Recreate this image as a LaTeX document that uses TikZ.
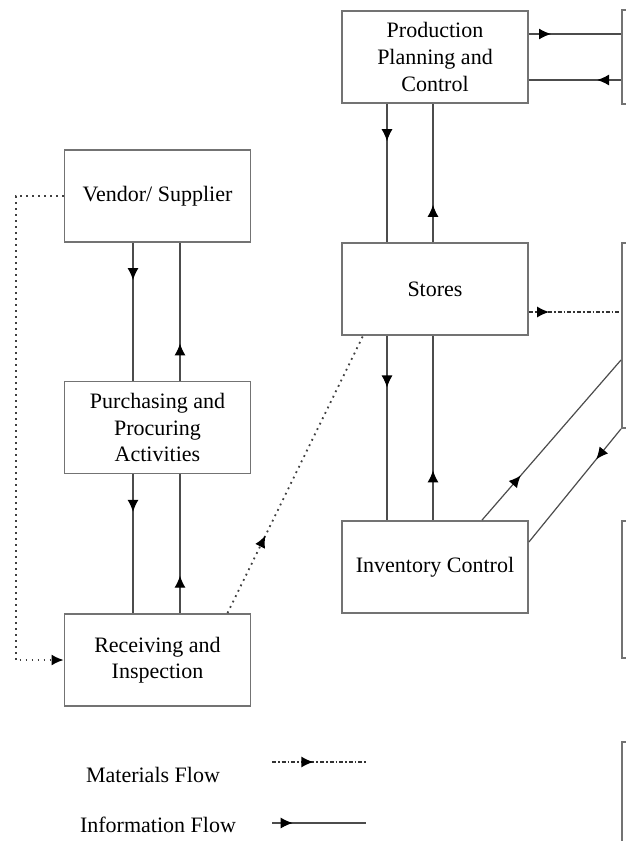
\documentclass[tikz,border=0pt]{standalone}
\usepackage{fontspec}
\setmainfont{Liberation Serif}
\usetikzlibrary{arrows.meta,decorations.markings}

\tikzset{
  box/.style={draw=black!55, line width=0.9pt, rectangle, minimum width=93pt, minimum height=46pt,
    align=center, inner sep=2pt, font=\fontsize{11}{13.3}\selectfont},
  sidebox/.style={draw=black!55, line width=0.9pt, rectangle, anchor=west, minimum width=60pt},
  midarrow/.style={postaction={decorate,decoration={markings,
    mark=at position #1 with {\arrow[black]{Latex[length=6pt,width=5.5pt]}}}}},
  infoflow/.style={draw=black!70, line width=0.6pt, midarrow=#1},
  matflow/.style={draw=black!80, line width=0.7pt, dash pattern=on 2pt off 1pt on 0.8pt off 1pt, midarrow=#1},
  matdotted/.style={draw=black!75, line width=0.9pt, dash pattern=on 0.9pt off 2.1pt},
  legendtext/.style={font=\fontsize{11}{13.3}\selectfont}
}

\begin{document}
\begin{tikzpicture}[x=0.5pt, y=-0.5pt]
    \useasboundingbox (0,0) rectangle (626,841);
    \clip (0,0) rectangle (626,841);

    % left column
    \node (vendor) [box] at (157.5,196) {Vendor/ Supplier};
    \node (purch) [box] at (157.5,427.5) {Purchasing and\\Procuring\\Activities};
    \node (recv) [box] at (157.5,660) {Receiving and\\Inspection};

    % middle column
    \node (ppc) [box] at (435,57) {Production\\Planning and\\Control};
    \node (stores) [box] at (435,289) {Stores};
    \node (inv) [box] at (435,567) {Inventory Control};

    % boxes cut off at the right edge
    \node (rtop) [sidebox, minimum height=47pt] at (621,57) {};
    \node (rmid) [sidebox, minimum height=92.5pt] at (621,335.5) {};
    \node (rlow) [sidebox, minimum height=68.5pt] at (621,589.5) {};
    \node (rbot) [sidebox, minimum height=79pt] at (621,821) {};

    % information flow
    \draw[infoflow=0.27] ([xshift=-12.25pt]vendor.south) -- ([xshift=-12.25pt]purch.north);
    \draw[infoflow=0.27] ([xshift=11.25pt]purch.north) -- ([xshift=11.25pt]vendor.south);
    \draw[infoflow=0.27] ([xshift=-12.25pt]purch.south) -- ([xshift=-12.25pt]recv.north);
    \draw[infoflow=0.27] ([xshift=11.25pt]recv.north) -- ([xshift=11.25pt]purch.south);
    \draw[infoflow=0.27] ([xshift=-24pt]ppc.south) -- ([xshift=-24pt]stores.north);
    \draw[infoflow=0.27] ([xshift=-1pt]stores.north) -- ([xshift=-1pt]ppc.south);
    \draw[infoflow=0.28] ([xshift=-24pt]stores.south) -- ([xshift=-24pt]inv.north);
    \draw[infoflow=0.27] ([xshift=-1pt]inv.north) -- ([xshift=-1pt]stores.south);
    \draw[infoflow=0.24] ([yshift=11.5pt]ppc.east) -- ([yshift=11.5pt]rtop.west);
    \draw[infoflow=0.26] ([yshift=-11.5pt]rtop.west) -- ([yshift=-11.5pt]ppc.east);
    \draw[infoflow=0.28] ([xshift=23.5pt]inv.north) -- ([yshift=-12.25pt]rmid.west);
    \draw[infoflow=0.27] (rmid.south west) -- ([yshift=12.5pt]inv.east);

    % materials flow
    \draw[matflow=0.22] ([yshift=-11.5pt]stores.east) -- ([yshift=-11.5pt]stores.east -| rmid.west);
    \draw[matdotted, midarrow=0.28] ([xshift=35pt]recv.north) -- ([xshift=-36pt]stores.south);
    \draw[matdotted, -{Latex[black,length=6pt,width=5.5pt]}] (vendor.west) -- ++(-24pt,0) |- (recv.west);

    % legend
    \node (matlabel) [legendtext] at (153,775) {Materials Flow};
    \node (infolabel) [legendtext] at (158,825) {Information Flow};
    \coordinate (mata) at (272,762);
    \coordinate (matb) at (366,762);
    \coordinate (infoa) at (272,823);
    \coordinate (infob) at (366,823);
    \draw[matflow=0.44] (mata) -- (matb);
    \draw[infoflow=0.22] (infoa) -- (infob);
\end{tikzpicture}
\end{document}
